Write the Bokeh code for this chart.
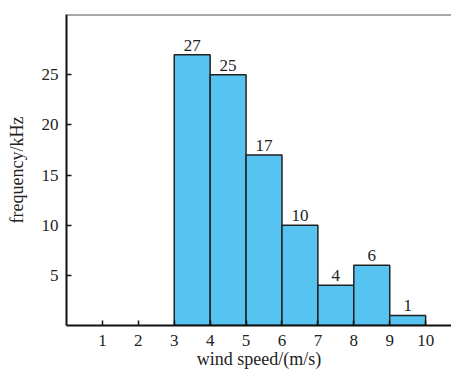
from bokeh.plotting import figure
from bokeh.models import ColumnDataSource, FixedTicker, Range1d, Span
from bokeh.embed import file_html
from bokeh.resources import INLINE

# data
bin_left = [0, 1, 2, 3, 4, 5, 6, 7, 8, 9]
bin_right = [1, 2, 3, 4, 5, 6, 7, 8, 9, 10]
counts = [0, 0, 0, 27, 25, 17, 10, 4, 6, 1]
x_ticks = [1, 2, 3, 4, 5, 6, 7, 8, 9, 10]
y_ticks = [5, 10, 15, 20, 25]

FONT = "Liberation Serif"

p = figure(width=451, height=373, output_backend="svg", toolbar_location=None,
           x_range=Range1d(0, 10.72), y_range=Range1d(0, 31),
           min_border_left=66, min_border_right=0, min_border_top=14, min_border_bottom=48)

nz = [i for i, c in enumerate(counts) if c > 0]
src = ColumnDataSource(dict(
    left=[bin_left[i] for i in nz],
    right=[bin_right[i] for i in nz],
    top=[counts[i] for i in nz],
    mid=[(bin_left[i] + bin_right[i]) / 2 for i in nz],
    lab=[str(counts[i]) for i in nz],
))

p.quad(left="left", right="right", bottom=0, top="top", source=src,
       fill_color="#56C3F0", line_color="#222222", line_width=1.5)
p.text(x="mid", y="top", text="lab", source=src, text_align="center",
       text_baseline="bottom", y_offset=-4, text_font_size="17px",
       text_color="#222222", text_font={"value": FONT})

p.grid.visible = False
p.outline_line_color = None
p.add_layout(Span(location=31, dimension="width", line_color="#555555", line_width=2))
p.background_fill_color = "white"
p.border_fill_color = "white"

for ax in (p.xaxis[0], p.yaxis[0]):
    ax.axis_line_color = "#111111"
    ax.axis_line_width = 2
    ax.major_tick_in = 5
    ax.major_tick_out = 0
    ax.major_tick_line_color = "#111111"
    ax.major_tick_line_width = 1.5
    ax.minor_tick_line_color = None
    ax.major_label_text_font = FONT
    ax.major_label_text_font_size = "17px"
    ax.major_label_text_color = "#222222"
    ax.axis_label_text_font = FONT
    ax.axis_label_text_font_size = "18px"
    ax.axis_label_text_font_style = "normal"
    ax.axis_label_text_color = "#222222"

p.xaxis.ticker = FixedTicker(ticks=x_ticks)
p.yaxis.ticker = FixedTicker(ticks=y_ticks)
p.xaxis.axis_label = "wind speed/(m/s)"
p.yaxis.axis_label = "frequency/kHz"
p.xaxis.major_label_standoff = 9
p.yaxis.major_label_standoff = 8
p.xaxis.axis_label_standoff = 0
p.yaxis.axis_label_standoff = 12

open("out.html", "w").write(file_html(p, INLINE))
